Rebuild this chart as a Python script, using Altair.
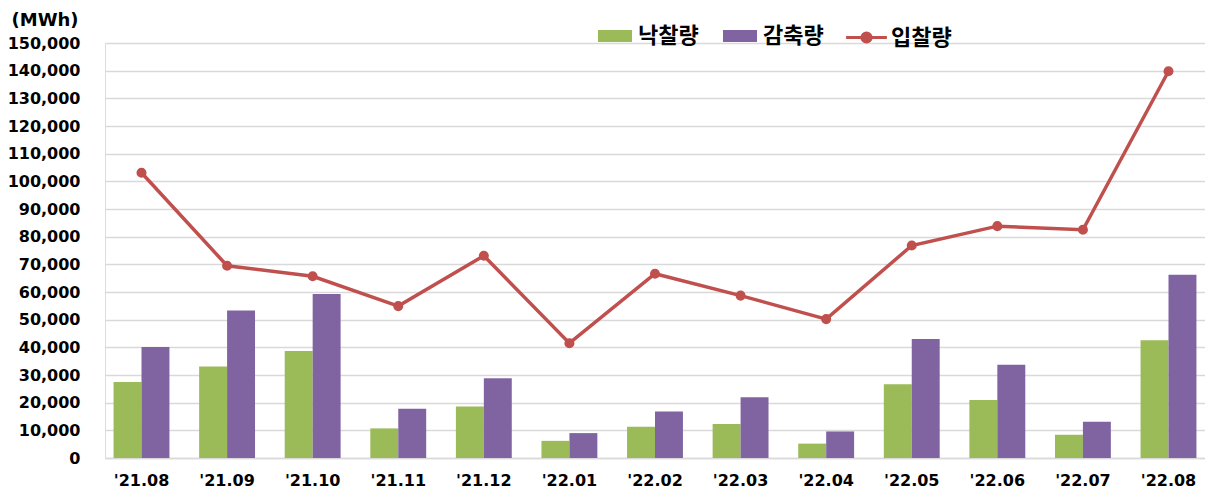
import altair as alt
import pandas as pd

months = ["'21.08", "'21.09", "'21.10", "'21.11", "'21.12", "'22.01", "'22.02",
          "'22.03", "'22.04", "'22.05", "'22.06", "'22.07", "'22.08"]
won = [27500, 33100, 38700, 10700, 18600, 6200, 11300, 12300, 5200, 26700, 21000, 8400, 42600]
curtail = [40100, 53300, 59300, 17800, 28800, 9000, 16800, 22000, 9600, 43000, 33700, 13100, 66200]
bid = [103100, 69500, 65700, 54900, 73100, 41500, 66600, 58700, 50200, 76800, 83800, 82500, 139800]

bar_series = ["낙찰량", "감축량"]
line_series = ["입찰량"]
bar_colors = ["#9BBB59", "#8064A2"]
line_color = "#C0504D"

bar_df = pd.DataFrame({
    "month": months * 2,
    "series": [bar_series[0]] * len(months) + [bar_series[1]] * len(months),
    "value": won + curtail,
})
line_df = pd.DataFrame({"month": months, "series": line_series[0], "value": bid})

RECT = "M-1,-0.35H1V0.35H-1Z"
LINE = "M-1.2,0H1.2M-0.27,0A0.27,0.27,0,1,1,0.27,0A0.27,0.27,0,1,1,-0.27,0Z"

FONT = "DejaVu Sans"
KFONT = "Noto Sans CJK KR"

legend_common = dict(
    title=None,
    orient="none",
    direction="horizontal",
    legendY=-24,
    padding=0,
    symbolSize=1156,
    labelFont=KFONT,
    labelFontSize=22,
    labelFontWeight="bold",
    labelColor="#000000",
    labelOffset=6,
    columnPadding=24,
    symbolOpacity=1,
)

bar_legend = alt.Legend(legendX=493, symbolType=RECT, symbolStrokeWidth=0, **legend_common)
line_legend = alt.Legend(
    legendX=743,
    symbolType=LINE,
    symbolStrokeColor=line_color,
    symbolFillColor=line_color,
    symbolStrokeWidth=3,
    **legend_common,
)

x_enc = alt.X(
    "month:N",
    sort=months,
    title=None,
    scale=alt.Scale(paddingInner=0.347, paddingOuter=0.1),
    axis=alt.Axis(
        labelAngle=0,
        labelFont=FONT,
        labelFontSize=16,
        labelFontWeight="bold",
        labelColor="#000000",
        labelPadding=14,
        ticks=False,
        domainColor="#D9D9D9",
        domainWidth=1.5,
        grid=False,
    ),
)

y_enc = alt.Y(
    "value:Q",
    title="(MWh)",
    scale=alt.Scale(domain=[0, 150000], nice=False),
    axis=alt.Axis(
        values=list(range(0, 150001, 10000)),
        format=",d",
        labelFont=FONT,
        labelFontSize=16,
        labelFontWeight="bold",
        labelColor="#000000",
        labelPadding=25,
        ticks=False,
        domain=False,
        grid=True,
        gridColor="#D9D9D9",
        gridWidth=1.3,
        titleAngle=0,
        titleX=-94,
        titleY=-23,
        titleAlign="left",
        titleBaseline="middle",
        titleFont=FONT,
        titleFontSize=18,
        titleFontWeight="bold",
        titleColor="#000000",
    ),
)

bars = alt.Chart(bar_df).mark_bar().encode(
    x=x_enc,
    xOffset=alt.XOffset("series:N", sort=bar_series),
    y=y_enc,
    fill=alt.Fill("series:N", scale=alt.Scale(domain=bar_series, range=bar_colors), legend=bar_legend),
)

line = alt.Chart(line_df).mark_line(
    strokeWidth=3.5,
    point=alt.OverlayMarkDef(filled=True, size=65, color=line_color),
).encode(
    x=x_enc,
    y=y_enc,
    stroke=alt.Stroke("series:N", scale=alt.Scale(domain=line_series, range=[line_color]), legend=line_legend),
)

chart = alt.layer(bars, line).resolve_scale(fill="independent", stroke="independent").properties(
    width=1100,
    height=415,
    padding={"left": 97, "top": 35, "right": 0, "bottom": 30},
    autosize=alt.AutoSizeParams(type="none"),
).configure_view(strokeWidth=0).configure(background="#FFFFFF")

chart.save("out.html", embed_options={"renderer": "svg", "actions": False})
